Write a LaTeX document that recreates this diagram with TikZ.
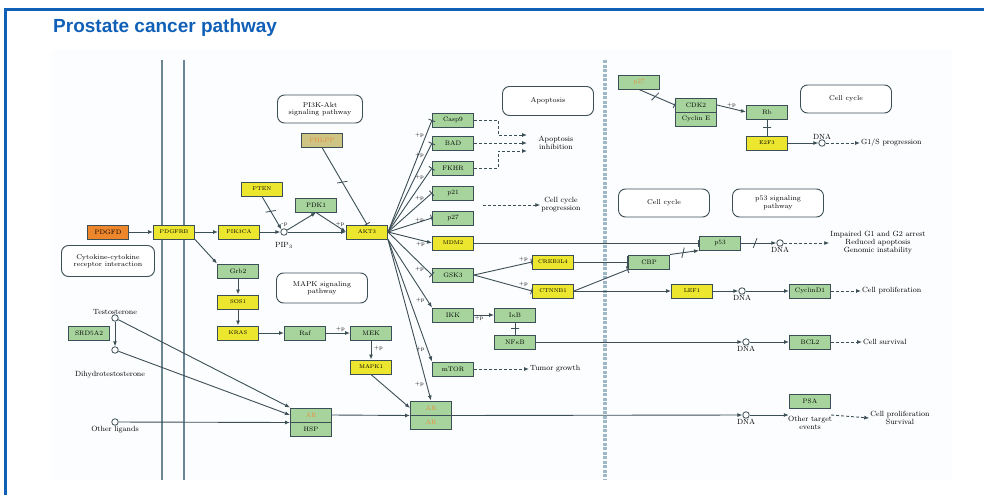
\documentclass[tikz,border=0pt]{standalone}
\usepackage{fontspec}
\newfontfamily\titlefont{Liberation Sans}
\usetikzlibrary{arrows.meta,shapes.misc}

\definecolor{frameblue}{RGB}{16,96,184}
\definecolor{genegreen}{RGB}{166,212,156}
\definecolor{geneyellow}{RGB}{236,230,46}
\definecolor{geneorange}{RGB}{238,134,44}
\definecolor{genetan}{RGB}{206,196,132}
\definecolor{edgegray}{RGB}{60,78,86}
\definecolor{membr}{RGB}{108,134,148}
\definecolor{septint}{RGB}{158,184,198}
\definecolor{artext}{RGB}{232,140,60}
\definecolor{panel}{RGB}{252,253,254}

\begin{document}
\begin{tikzpicture}[x=1pt,y=-1pt,
    gene/.style={draw=edgegray,line width=1pt,fill=genegreen,minimum width=41pt,minimum height=14pt,inner sep=0pt,font=\fontsize{6.5}{7}\selectfont},
    ygene/.style={gene,fill=geneyellow,font=\fontsize{5.5}{6}\selectfont},
    pathbox/.style={draw=edgegray,line width=.9pt,rounded corners=7pt,fill=white,align=center,minimum width=91pt,minimum height=28pt,inner sep=0pt,font=\fontsize{7}{7.5}\selectfont},
    cpd/.style={circle,draw=edgegray,fill=white,line width=.8pt,minimum size=6.5pt,inner sep=0pt},
    txt/.style={align=center,font=\fontsize{7.5}{8}\selectfont,inner sep=1pt},
    lbl/.style={font=\fontsize{5.5}{6}\selectfont,inner sep=.5pt},
    conn/.style={draw=edgegray,line width=.9pt},
    arr/.style={conn,-{Latex[length=5pt,width=4pt]}},
    inh/.style={conn,-{Bar[width=7pt]}},
    dsh/.style={arr,dash pattern=on 3pt off 2pt},
    cut/.style={strike out,draw=edgegray,line width=.8pt,sloped,minimum width=3pt,minimum height=9pt,inner sep=0pt},
    bind/.style={draw=edgegray,line width=.8pt,sloped,minimum width=0pt,minimum height=8pt,inner sep=0pt}
  ]
  \useasboundingbox (0,0) rectangle (984,495);

  % frame, title, membranes
  \fill[panel] (52,50) rectangle (952,480);
  \draw[frameblue,line width=3pt] (5,495) -- (5,10) -- (984,10);
  \node[anchor=west,inner sep=0pt,text=frameblue,font=\titlefont\bfseries\fontsize{19}{20}\selectfont] (title) at (53,28) {Prostate cancer pathway};
  \draw[membr,line width=2.8pt] (162,60) -- (162,480) (184,60) -- (184,480);
  \draw[septint,line width=3.5pt,dash pattern=on 3pt off 1.5pt] (605,60) -- (605,480);

  % pathway maps
  \node[pathbox,minimum width=85pt] (pi3kmap) at (320,109) {PI3K-Akt\\signaling pathway};
  \node[pathbox,minimum width=93pt,minimum height=31pt] (cytomap) at (108,261) {Cytokine-cytokine\\receptor interaction};
  \node[pathbox,minimum height=30pt] (mapkmap) at (322,288) {MAPK signaling\\pathway};
  \node[pathbox,minimum height=29pt] (apomap) at (548,101) {Apoptosis};
  \node[pathbox] (ccmap1) at (846,99) {Cell cycle};
  \node[pathbox] (ccmap2) at (664,203) {Cell cycle};
  \node[pathbox] (p53map) at (778,203) {p53 signaling\\pathway};

  % genes
  \node[gene,fill=geneorange] (pdgfd) at (108,232) {PDGFD};
  \node[ygene] (pdgfrb) at (174,232) {PDGFRB};
  \node[ygene] (pik3ca) at (239,232) {PIK3CA};
  \node[ygene] (pten) at (262,189) {PTEN};
  \node[gene] (pdk1) at (316,205) {PDK1};
  \node[ygene] (akt3) at (367,232) {AKT3};
  \node[gene,fill=genetan,text=artext] (phlpp) at (322,140) {PHLPP};
  \node[gene] (grb2) at (238,271) {Grb2};
  \node[ygene] (sos1) at (238,302) {SOS1};
  \node[ygene] (kras) at (238,333) {KRAS};
  \node[gene] (raf) at (305,333) {Raf};
  \node[gene] (mek) at (371,333) {MEK};
  \node[ygene] (mapk) at (371,367) {MAPK1};
  \node[gene] (srd5a2) at (89,333) {SRD5A2};
  \node[gene,text=artext] (arh) at (311,415) {AR};
  \node[gene] (hsp) at (311,429) {HSP};
  \node[gene] (casp9) at (453,120) {Casp9};
  \node[gene] (bad) at (453,143) {BAD};
  \node[gene] (fkhr) at (453,168) {FKHR};
  \node[gene] (p21) at (453,193) {p21};
  \node[gene] (p27) at (453,218) {p27};
  \node[ygene] (mdm2) at (453,243) {MDM2};
  \node[gene] (gsk3) at (453,275) {GSK3};
  \node[gene] (ikk) at (453,315) {IKK};
  \node[gene] (mtor) at (453,369) {mTOR};
  \node[gene,text=artext] (ar1) at (431,408) {AR};
  \node[gene,text=artext] (ar2) at (431,422) {AR};
  \node[ygene] (creb) at (553,262) {CREB3L4};
  \node[ygene] (ctnnb1) at (553,291) {CTNNB1};
  \node[gene] (ikb) at (515,315) {I$\kappa$B};
  \node[gene] (nfkb) at (515,342) {NF$\kappa$B};
  \node[gene] (cbp) at (649,262) {CBP};
  \node[gene] (p53) at (720,243) {p53};
  \node[ygene] (lef1) at (692,291) {LEF1};
  \node[gene] (cycd1) at (810,291) {CyclinD1};
  \node[gene] (bcl2) at (810,342) {BCL2};
  \node[gene] (psa) at (810,401) {PSA};
  \node[gene,text=artext] (p27b) at (639,82) {p27};
  \node[gene] (cdk2) at (696,105) {CDK2};
  \node[gene] (cyce) at (696,119) {Cyclin E};
  \node[gene] (rb) at (767,112) {Rb};
  \node[ygene] (e2f3) at (767,143) {E2F3};

  % compounds
  \node[cpd] (pip3) at (284,232) {};
  \node[txt,inner sep=0pt] (pip3txt) at (284,245) {PIP$_3$};
  \node[cpd,label={[txt,inner sep=0pt]above:Testosterone}] (testo) at (115,318) {};
  \node[cpd] (dht) at (115,350) {};
  \node[txt] (dhttxt) at (110,375) {Dihydrotestosterone};
  \node[cpd,label={[txt,inner sep=0pt]below:Other ligands}] (othlig) at (115,422) {};
  \node[cpd,label={[txt,inner sep=0pt]above:DNA}] (dnae2f) at (822,143) {};
  \node[cpd,label={[txt,inner sep=0pt]below:DNA}] (dnap53) at (780,243) {};
  \node[cpd,label={[txt,inner sep=0pt]below:DNA}] (dnalef) at (742,291) {};
  \node[cpd,label={[txt,inner sep=0pt]below:DNA}] (dnanfkb) at (746,342) {};
  \node[cpd,label={[txt,inner sep=0pt]below:DNA}] (dnaar) at (746,415) {};

  % outcomes
  \node[txt] (apoinh) at (556,143) {Apoptosis\\inhibition};
  \node[txt] (ccprog) at (561,205) {Cell cycle\\progression};
  \node[txt,anchor=west] (tumor) at (529,369) {Tumor growth};
  \node[txt,anchor=west] (g1s) at (860,143) {G1/S progression};
  \node[txt] (impair) at (878,243) {Impaired G1 and G2 arrest\\Reduced apoptosis\\Genomic instability};
  \node[txt,anchor=west] (prolif) at (861,291) {Cell proliferation};
  \node[txt,anchor=west] (surv) at (862,342) {Cell survival};
  \node[txt] (prolsurv) at (900,418) {Cell proliferation\\Survival};
  \node[minimum width=42pt,minimum height=2pt,inner sep=0pt,
        label={[txt,inner sep=0pt]below:{Other target\\events}}] (othev) at (810,415) {};

  \coordinate (apbend1) at (498,135);
  \coordinate (apbend3) at (498,151);
  \coordinate (apin1) at (527,135);
  \coordinate (apin2) at (527,143);
  \coordinate (apin3) at (527,151);
  \coordinate (ccstart) at (483,205);

  \begin{scope}
    % receptor to PI3K and MAPK
    \draw[arr] (pdgfd) -- (pdgfrb);
    \draw[arr] (pdgfrb) -- (pik3ca);
    \draw[arr] (pdgfrb.south east) -- (grb2.north west);
    \draw[arr] (pik3ca) -- (pip3);
    \draw[arr] (pten.south) -- node[cut,pos=.45]{} node[lbl,pos=.85,right=2pt]{-p} (pip3.north west);
    \draw[arr] (pip3) -- (pdk1.south);
    \draw[arr] (pdk1.south) -- node[lbl,pos=.8,above=1pt]{+p} (akt3.west);
    \draw[arr] (pip3) -- (akt3);
    \draw[inh] (phlpp.south) -- node[cut,pos=.45]{} (akt3.north);
    \draw[arr] (grb2) -- (sos1);
    \draw[arr] (sos1) -- (kras);
    \draw[arr] (kras) -- (raf);
    \draw[arr] (raf) -- node[lbl,above,pos=.6]{+p} (mek);
    \draw[arr] (mek) -- node[lbl,right=2pt,pos=.4]{+p} (mapk);
    \draw[arr] (mapk.south) -- (ar1.west);

    % AKT targets
    \foreach \t in {casp9,bad,fkhr,p21,p27,gsk3}
      \draw[inh] (akt3.east) -- node[lbl,pos=.86,left=1pt]{+p} (\t.west);
    \draw[arr] (akt3.east) -- node[lbl,pos=.86,below left=0pt]{+p} (mdm2.west);
    \foreach \t in {ikk,mtor}
      \draw[arr] (akt3.south east) -- node[lbl,pos=.9,left=2pt]{+p} (\t.north west);
    \draw[arr] (akt3.south east) -- node[lbl,pos=.9,left=2pt]{+p} (ar1.north);

    % apoptosis and cell cycle outputs
    \draw[dsh] (casp9.east) -| (apbend1) -- (apin1);
    \draw[dsh] (bad.east) -- (apin2);
    \draw[dsh] (fkhr.east) -| (apbend3) -- (apin3);
    \draw[dsh] (ccstart) -- (ccprog.west);
    \draw[dsh] (mtor) -- (tumor);

    % GSK3, beta-catenin, p53
    \draw[inh] (gsk3.east) -- node[lbl,pos=.85,above=1pt]{+p} (creb.west);
    \draw[inh] (gsk3.east) -- node[lbl,pos=.85,above=1pt]{+p} (ctnnb1.west);
    \draw[conn,-{Bar[width=12pt]}] (creb) -- (cbp);
    \draw[conn,-{Bar[width=7pt]}] (ctnnb1.east) -- (cbp.south west);
    \draw[arr] (ctnnb1) -- (lef1);
    \draw[inh] (mdm2) -- (p53);
    \draw[arr] (cbp.north east) -- node[cut,pos=.45]{} (p53.south west);
    \draw[arr] (p53) -- node[cut,pos=.4]{} (dnap53);
    \draw[dsh] (dnap53) -- (impair.west);
    \draw[arr] (lef1) -- (dnalef);
    \draw[arr] (dnalef) -- (cycd1);
    \draw[dsh] (cycd1) -- (prolif);

    % NF-kB
    \draw[arr] (ikk) -- node[lbl,below,pos=.25]{+p} (ikb);
    \draw[conn] (ikb) -- node[bind]{} (nfkb);
    \draw[arr] (nfkb) -- (dnanfkb);
    \draw[arr] (dnanfkb) -- (bcl2);
    \draw[dsh] (bcl2) -- (surv);

    % androgen receptor
    \draw[arr] (testo) -- (dht);
    \draw[arr] (testo) -- (arh.north west);
    \draw[arr] (dht) -- (arh.west);
    \draw[arr] (othlig) -- (arh.south west);
    \draw[arr] (arh.east) -- (ar1.south west);
    \draw[arr] (ar1.south east) -- (dnaar);
    \draw[arr] (dnaar) -- (othev.west);
    \draw[dsh] (othev.east) -- (prolsurv.west);

    % G1/S
    \draw[inh] (p27b.south) -- node[cut,pos=.45]{} (cdk2.west);
    \draw[arr] (cdk2.east) -- node[lbl,above,pos=.5]{+p} (rb.west);
    \draw[conn] (rb) -- node[bind]{} (e2f3);
    \draw[arr] (e2f3) -- (dnae2f);
    \draw[dsh] (dnae2f) -- (g1s);
  \end{scope}
\end{tikzpicture}
\end{document}
